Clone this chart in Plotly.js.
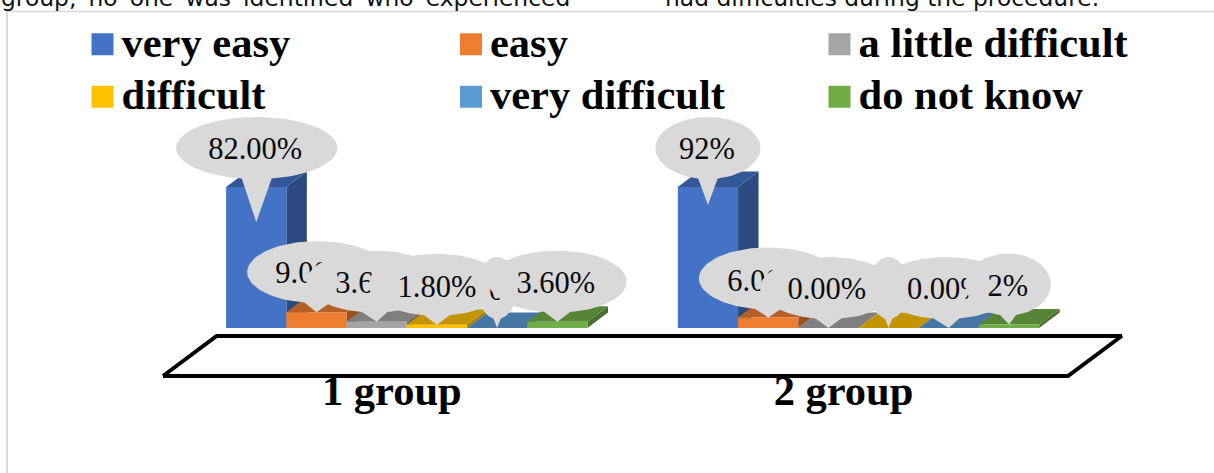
<!DOCTYPE html>
<html>
<head>
<meta charset="utf-8">
<script src="https://cdn.plot.ly/plotly-3.0.1.min.js"></script>
<style>
html,body{margin:0;padding:0;background:#fff;overflow:hidden}
/* Larger legend keys than the library's default bar swatch */
.legendpoints path{d:path("M12,15H-10V-7H12Z")}
</style>
</head>
<body>
<div id="chart" style="width:1214px;height:473px"></div>
<script>
// Survey answers per group, in percent
const groups = ["1 group", "2 group"];
const answers = ["very easy", "easy", "a little difficult", "difficult", "very difficult", "do not know"];
const group1Values = [82, 9, 3.6, 1.8, 0, 3.6];
const group2Values = [92, 6, 0, 0, 0, 2];
const group1Labels = ["82.00%", "9.00%", "3.60%", "1.80%", "0.00%", "3.60%"];
const group2Labels = ["92%", "6.00%", "0.00%", "0.00%", "0.00%", "2%"];
const answerColors = ["#4472C4", "#ED7D31", "#A5A5A5", "#FFC000", "#5B9BD5", "#70AD47"];

// The value axis stops at 80%, so taller columns are cut off at its top
const axisMax = 80;

// Scales shared by all the overlaid subplots
const pxPerGroup = 451.7;
const pxPerPercent = 141 / axisMax;
const dxOf = px => px / pxPerGroup;
const dyOf = px => px / pxPerPercent;

const colWidth = 0.8 / answers.length;
const depthX = dxOf(20.5);
const depthY = dyOf(15.5);

function shade(hex, k) {
  const n = parseInt(hex.slice(1), 16);
  const c = [n >> 16, (n >> 8) & 255, n & 255].map(v => Math.round(v * k));
  return `rgb(${c[0]},${c[1]},${c[2]})`;
}

const data = [];

// Floor of the 3D plot area
data.push({
  x: [-0.5397, -0.421, 1.5827, 1.4638, -0.5397],
  y: [dyOf(-48), dyOf(-8), dyOf(-8), dyOf(-48), dyOf(-48)],
  mode: "lines", fill: "toself", fillcolor: "#fff",
  line: {color: "#000", width: 4}, showlegend: false, hoverinfo: "skip",
  xaxis: "x", yaxis: "y"
});

// Side and top faces of the columns, left to right
function addFace(xs, ys, color) {
  data.push({
    x: xs, y: ys, mode: "lines", fill: "toself", fillcolor: color,
    line: {width: 0, color: color}, showlegend: false, hoverinfo: "skip",
    xaxis: "x", yaxis: "y"
  });
}
[group1Values, group2Values].forEach((values, g) => {
  values.forEach((v, i) => {
    const h = Math.min(v, axisMax);
    const x0 = g + (i - answers.length / 2) * colWidth;
    const x1 = x0 + colWidth;
    addFace([x1, x1 + depthX, x1 + depthX, x1, x1],
            [0, depthY, h + depthY, h, 0], shade(answerColors[i], 0.65));
    addFace([x0, x0 + depthX, x1 + depthX, x1, x0],
            [h, h + depthY, h + depthY, h, h], shade(answerColors[i], 0.77));
  });
});

// Front faces, one bar trace per answer, clipped by the 0-80% axis.
// Each legend row is its own legend so the row spacing can be set freely.
answers.forEach((name, i) => {
  data.push({
    type: "bar", name: name, x: [0, 1],
    y: [group1Values[i], group2Values[i]],
    marker: {color: answerColors[i], line: {width: 0}},
    legend: i < 3 ? "legend" : "legend2",
    hoverinfo: "skip", xaxis: "x", yaxis: "y2"
  });
});

// Callout geometry relative to each column: tip drop below the column top,
// ellipse offset from the tip, ellipse half-width, label offset from the ellipse
const tipDrop = [[35, 0, 0, 0, 0, 0], [18, 0, 0, 0, 0, 0]];
const ellipseDx = [[0.5, 1, -2, 0, 0, 0], [0, 0, 0, 0, -2.5, -1]];
const ellipseRise = [[74, 40, 40, 40, 40, 40], [57, 39, 40, 40, 40, 40]];
const ellipseRx = [[80.7, 70.3, 68.3, 68.3, 20, 69.3], [52.5, 69.3, 68.3, 20, 68.3, 42.7]];
const labelDx = [[-1.5, -2.7, 0, 0, 31.3, -1.5], [-1, -1.5, -1.5, 31.3, 0, -0.3]];
const labelDy = [[3.5, 3.5, 3.5, 4.5, 4.5, 3.5], [3.5, 4.5, 3.5, 4.5, 3.5, 3.5]];
const ellipseRy = 31;
const wedgeAngle = 10.7 * Math.PI / 180;

function addCallout(g, i, value, label) {
  const barX = g + (i + 0.5 - answers.length / 2) * colWidth;
  const tipY = Math.min(value, axisMax) - dyOf(tipDrop[g][i]);
  const cx = barX + dxOf(ellipseDx[g][i]);
  const cy = tipY + dyOf(ellipseRise[g][i]);
  const rx = dxOf(ellipseRx[g][i]);
  const ry = dyOf(ellipseRy);
  const start = -Math.PI / 2 + wedgeAngle;
  const xs = [], ys = [];
  for (let k = 0; k <= 96; k++) {
    const a = start + (2 * Math.PI - 2 * wedgeAngle) * k / 96;
    xs.push(cx + rx * Math.cos(a));
    ys.push(cy + ry * Math.sin(a));
  }
  xs.push(barX, xs[0]);
  ys.push(tipY, ys[0]);
  data.push({
    x: xs, y: ys, mode: "lines", fill: "toself", fillcolor: "#D9D9D9",
    line: {width: 0, color: "#D9D9D9"}, showlegend: false, hoverinfo: "skip",
    xaxis: "x", yaxis: "y3"
  });
  data.push({
    x: [cx + dxOf(labelDx[g][i])], y: [cy - dyOf(labelDy[g][i])],
    mode: "text", text: [label], textposition: "middle center",
    textfont: {family: "Liberation Serif", size: 30.5, color: "#0a0a0a"},
    showlegend: false, hoverinfo: "skip", xaxis: "x", yaxis: "y3"
  });
}
[[group1Values, group1Labels], [group2Values, group2Labels]].forEach(([values, labels], g) => {
  values.forEach((v, i) => addCallout(g, i, v, labels[i]));
});

const plotTop = 100, plotBottom = 380, plotH = plotBottom - plotTop;
const xLow = -406.8 / pxPerGroup;
const yRange = [dyOf(-52), dyOf(228)];
const hiddenY = {visible: false, fixedrange: true};
const paperY = px => (plotBottom - px) / plotH;

const legendStyle = {
  orientation: "h", x: 81.5 / 1214, xanchor: "left", yanchor: "top",
  entrywidth: 323.5, entrywidthmode: "pixels", traceorder: "normal",
  font: {family: "Liberation Serif", size: 42.5, color: "#000", weight: "bold"},
  bgcolor: "rgba(0,0,0,0)", borderwidth: 0
};
const noteFont = {family: "DejaVu Sans", size: 23.4, color: "#111"};

const layout = {
  width: 1214, height: 473,
  margin: {l: 0, r: 0, t: plotTop, b: 473 - plotBottom, autoexpand: false},
  paper_bgcolor: "#fff", plot_bgcolor: "rgba(0,0,0,0)",
  hovermode: false, barmode: "group", bargap: 0.2, bargroupgap: 0,
  xaxis: {
    range: [xLow, xLow + 1214 / pxPerGroup], tickmode: "array", tickvals: [0, 1], ticktext: groups,
    showgrid: false, zeroline: false, showline: false, ticks: "",
    ticklabelshift: -15, ticklabelstandoff: -19,
    tickfont: {family: "Liberation Serif", size: 42.5, color: "#000", weight: "bold"},
    fixedrange: true
  },
  yaxis: Object.assign({range: yRange, domain: [0, 1]}, hiddenY),
  yaxis2: Object.assign({range: [0, axisMax], domain: [52 / plotH, 193 / plotH], anchor: "x"}, hiddenY),
  yaxis3: Object.assign({range: yRange, domain: [0, 1], anchor: "x"}, hiddenY),
  legend: Object.assign({y: paperY(6)}, legendStyle),
  legend2: Object.assign({y: paperY(58.5)}, legendStyle),
  shapes: [
    {type: "line", xref: "paper", yref: "paper", x0: 7 / 1214, x1: 1, y0: paperY(11.5), y1: paperY(11.5),
     line: {color: "#D9D9D9", width: 1.5}},
    {type: "line", xref: "paper", yref: "paper", x0: 7 / 1214, x1: 7 / 1214, y0: paperY(11.5), y1: paperY(473),
     line: {color: "#D9D9D9", width: 2}}
  ],
  annotations: [
    {text: "group,\u00A0\u2009no\u00A0\u2009one\u00A0\u2009was\u00A0\u2009identified\u00A0\u2009who\u00A0\u2009experienced",
     xref: "paper", yref: "paper", x: -1 / 1214, xanchor: "left", y: paperY(-2), yanchor: "middle",
     showarrow: false, font: noteFont},
    {text: "had difficulties during the procedure.", xref: "paper", yref: "paper",
     x: 662.5 / 1214, xanchor: "left", y: paperY(-2), yanchor: "middle", showarrow: false, font: noteFont}
  ]
};

Plotly.newPlot("chart", data, layout, {displayModeBar: false, staticPlot: true});
</script>
</body>
</html>
